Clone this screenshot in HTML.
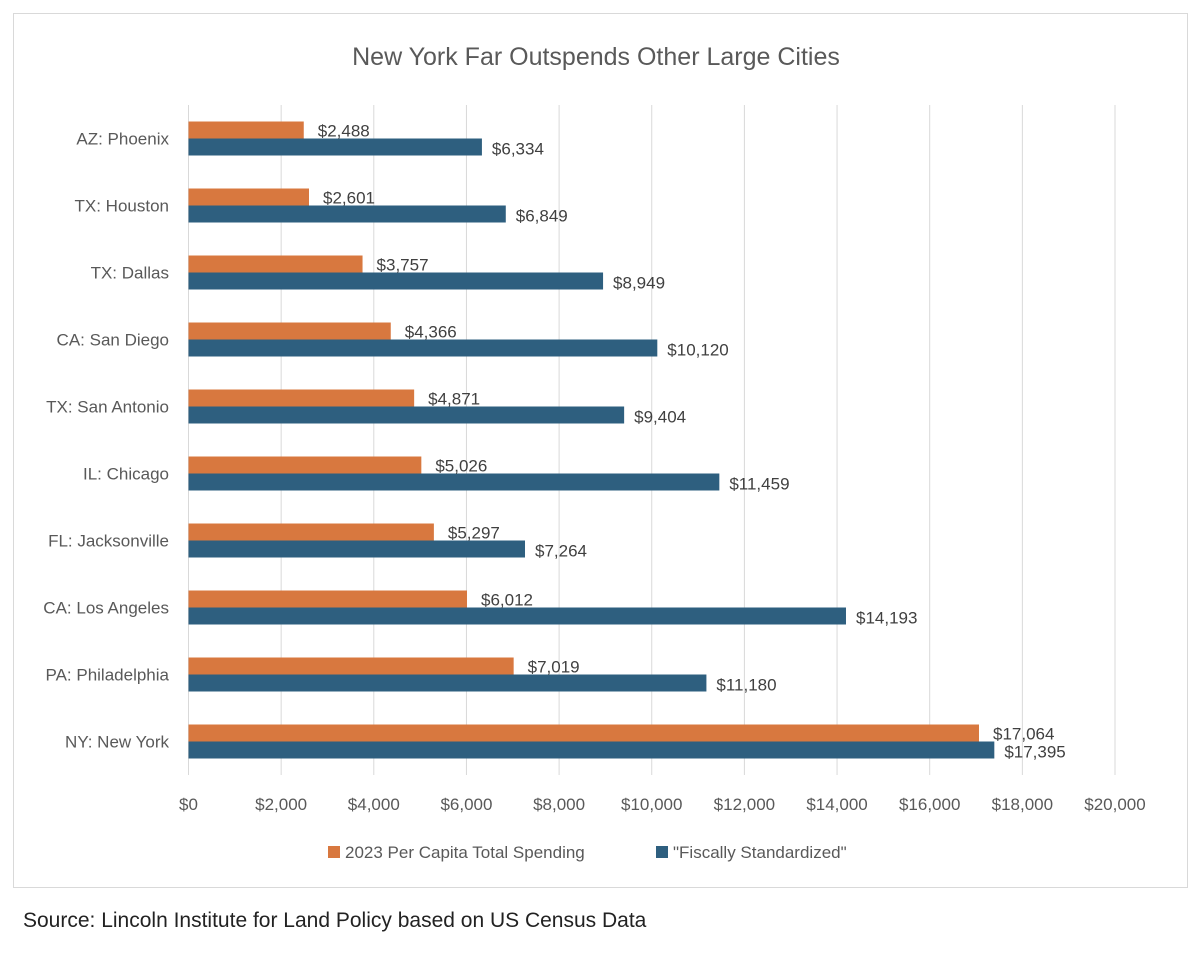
<!DOCTYPE html>
<html><head><meta charset="utf-8"><style>
body{margin:0;width:1200px;height:951px;background:#fff;overflow:hidden;font-family:"Liberation Sans",sans-serif}
</style></head><body>
<svg id="chart" width="1200" height="951" xmlns="http://www.w3.org/2000/svg">
<rect x="13.5" y="13.5" width="1174" height="874" fill="#fff" stroke="#d9d9d9"/>
<text x="596" y="65" text-anchor="middle" font-size="25" fill="#595959">New York Far Outspends Other Large Cities</text>
<g id="grid"></g><g id="bars"></g><g id="labels"></g>
<g>
<rect x="328" y="846" width="12" height="12" fill="#D8783F"/>
<text x="345" y="858" font-size="17" fill="#595959">2023 Per Capita Total Spending</text>
<rect x="656" y="846" width="12" height="12" fill="#2E5F7F"/>
<text x="673" y="858" font-size="17" fill="#595959">"Fiscally Standardized"</text>
</g>
<text x="23" y="927" font-size="21" fill="#222">Source: Lincoln Institute for Land Policy based on US Census Data</text>
</svg>
<script>
const categories=["AZ: Phoenix","TX: Houston","TX: Dallas","CA: San Diego","TX: San Antonio","IL: Chicago","FL: Jacksonville","CA: Los Angeles","PA: Philadelphia","NY: New York"];
const spending=[2488,2601,3757,4366,4871,5026,5297,6012,7019,17064];
const standardized=[6334,6849,8949,10120,9404,11459,7264,14193,11180,17395];
const ticks=[0,2000,4000,6000,8000,10000,12000,14000,16000,18000,20000];
const NS="http://www.w3.org/2000/svg";
const x0=188.5,x1=1115,xmax=20000,plotTop=105,band=67;
const X=v=>x0+v/xmax*(x1-x0);
const Yc=i=>plotTop+band*i+band/2;
const fmt=v=>"$"+v.toLocaleString("en-US");
function mk(tag,attrs,parent){const e=document.createElementNS(NS,tag);for(const k in attrs)e.setAttribute(k,attrs[k]);parent.appendChild(e);return e;}
const grid=document.getElementById("grid"),bars=document.getElementById("bars"),labels=document.getElementById("labels");
ticks.forEach(t=>{
  const l=mk("line",{x1:X(t),x2:X(t),y1:plotTop,y2:plotTop+band*categories.length,stroke:"#d9d9d9","stroke-width":1},grid);
  
  
  const tx=mk("text",{x:X(t),y:810,"text-anchor":"middle","font-size":17,fill:"#595959"},grid);
  tx.textContent=fmt(t);
  
  
});
const bh=17;
categories.forEach((c,i)=>{
  const yc=Yc(i);
  const cl=mk("text",{x:169,y:yc+6,"text-anchor":"end","font-size":17,fill:"#595959"},labels);
  cl.textContent=c;
  
  
  const b1=mk("rect",{x:x0,y:yc-bh,width:X(spending[i])-x0,height:bh,fill:"#D8783F"},bars);
  
  
  const b2=mk("rect",{x:x0,y:yc,width:X(standardized[i])-x0,height:bh,fill:"#2E5F7F"},bars);
  
  
  const v1=mk("text",{x:X(spending[i])+14,y:yc-2,"font-size":17,fill:"#404040"},labels);
  v1.textContent=fmt(spending[i]);
  
  
  const v2=mk("text",{x:X(standardized[i])+10,y:yc+16,"font-size":17,fill:"#404040"},labels);
  v2.textContent=fmt(standardized[i]);
  
  
});
</script>
</body></html>
